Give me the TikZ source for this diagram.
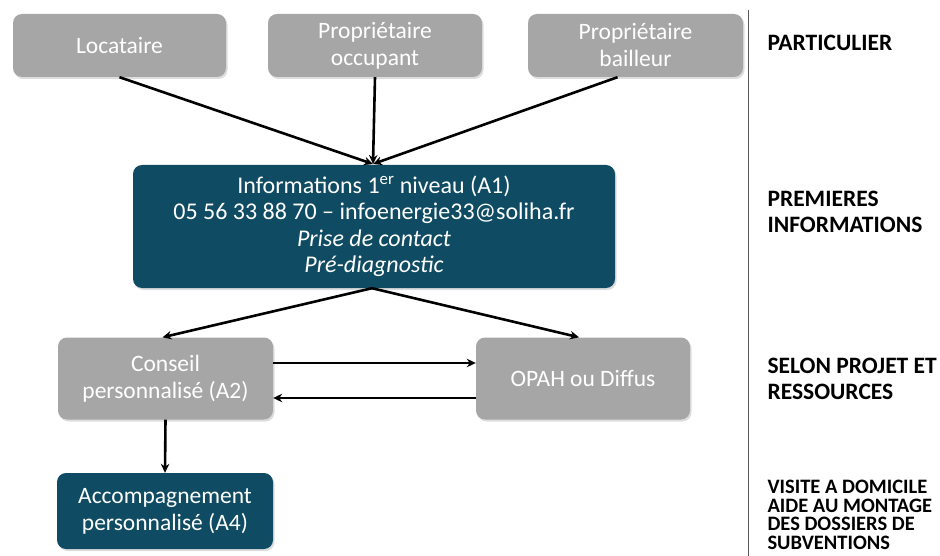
\documentclass[tikz,border=0pt]{standalone}
\usepackage{fontspec}
\setmainfont{Carlito}
\usetikzlibrary{arrows.meta,shadows}
\definecolor{boxgrey}{HTML}{A6A6A6}
\definecolor{teal}{HTML}{0F4C63}
\begin{document}
\begin{tikzpicture}[x=1pt,y=-1pt,
  shad/.style={drop shadow={shadow xshift=1.5pt, shadow yshift=-2pt, opacity=0.22, fill=black!60}},
  greybox/.style={fill=boxgrey, rounded corners=9pt, text=white, align=center,
    font=\fontsize{23.5}{27}\selectfont, inner sep=0pt, shad},
  tealbox/.style={fill=teal, rounded corners=9pt, text=white, align=center,
    font=\fontsize{23.5}{27}\selectfont, inner sep=0pt, shad},
  conn/.style={line width=2.6pt, -{Stealth[length=9pt,width=8.5pt]}},
  lab/.style={anchor=west, align=left, font=\bfseries\fontsize{23.5}{26}\selectfont},
  smalllab/.style={anchor=west, align=left, font=\bfseries\fontsize{20.5}{18.5}\selectfont}]
\useasboundingbox (0,0) rectangle (940,556);
% boxes
\node[greybox, minimum width=213pt, minimum height=63pt] (loc) at (119.5,45.5) {Locataire};
\node[greybox, minimum width=214pt, minimum height=63pt] (occ) at (375,45.5) {Propriétaire\\occupant};
\node[greybox, minimum width=215pt, minimum height=63pt] (bai) at (635.5,45.5) {Propriétaire\\bailleur};
\node[tealbox, minimum width=482pt, minimum height=123pt,
  font=\fontsize{24}{26.5}\selectfont] (info) at (374,226.5)
  {Informations 1\textsuperscript{er} niveau (A1)\\
   05 56 33 88 70 -- infoenergie33@soliha.fr\\
   \itshape Prise de contact\\
   \itshape Pré-diagnostic};
\node[greybox, minimum width=215pt, minimum height=82pt] (cons) at (165.5,378.5) {Conseil\\personnalisé (A2)};
\node[greybox, minimum width=214pt, minimum height=82pt] (opah) at (583,378.5) {OPAH ou Diffus};
\node[tealbox, minimum width=216pt, minimum height=76pt] (acc) at (165,511) {Accompagnement\\personnalisé (A4)};
% separator
\coordinate (vtop) at (748.5,10);
\coordinate (vbot) at (748.5,556);
\draw[line width=1.2pt, black!65] (vtop) -- (vbot);
% labels
\node[lab] (l1) at (764,43) {PARTICULIER};
\node[lab] (l2) at (764,212) {PREMIERES\\INFORMATIONS};
\node[lab] (l3) at (764,379) {SELON PROJET ET\\RESSOURCES};
\node[smalllab] (l4) at (764,515) {VISITE A DOMICILE\\AIDE AU MONTAGE\\DES DOSSIERS DE\\SUBVENTIONS};
% connectors
\coordinate (top) at (373,164);
\draw[conn] (loc.south) -- (top);
\draw[conn] (occ.south) -- (top);
\draw[conn] ([xshift=-18pt]bai.south) -- (top);
\draw[conn] ([xshift=-2pt]info.south) -- ([xshift=-3pt]cons.north);
\draw[conn] ([xshift=-2pt]info.south) -- ([xshift=-4pt]opah.north);
\draw[conn] ([yshift=15.5pt]cons.east) -- ([yshift=15.5pt]opah.west);
\draw[conn] ([yshift=-19.5pt]opah.west) -- ([yshift=-19.5pt]cons.east);
\draw[conn] (cons.south) -- (acc.north);
\end{tikzpicture}
\end{document}
